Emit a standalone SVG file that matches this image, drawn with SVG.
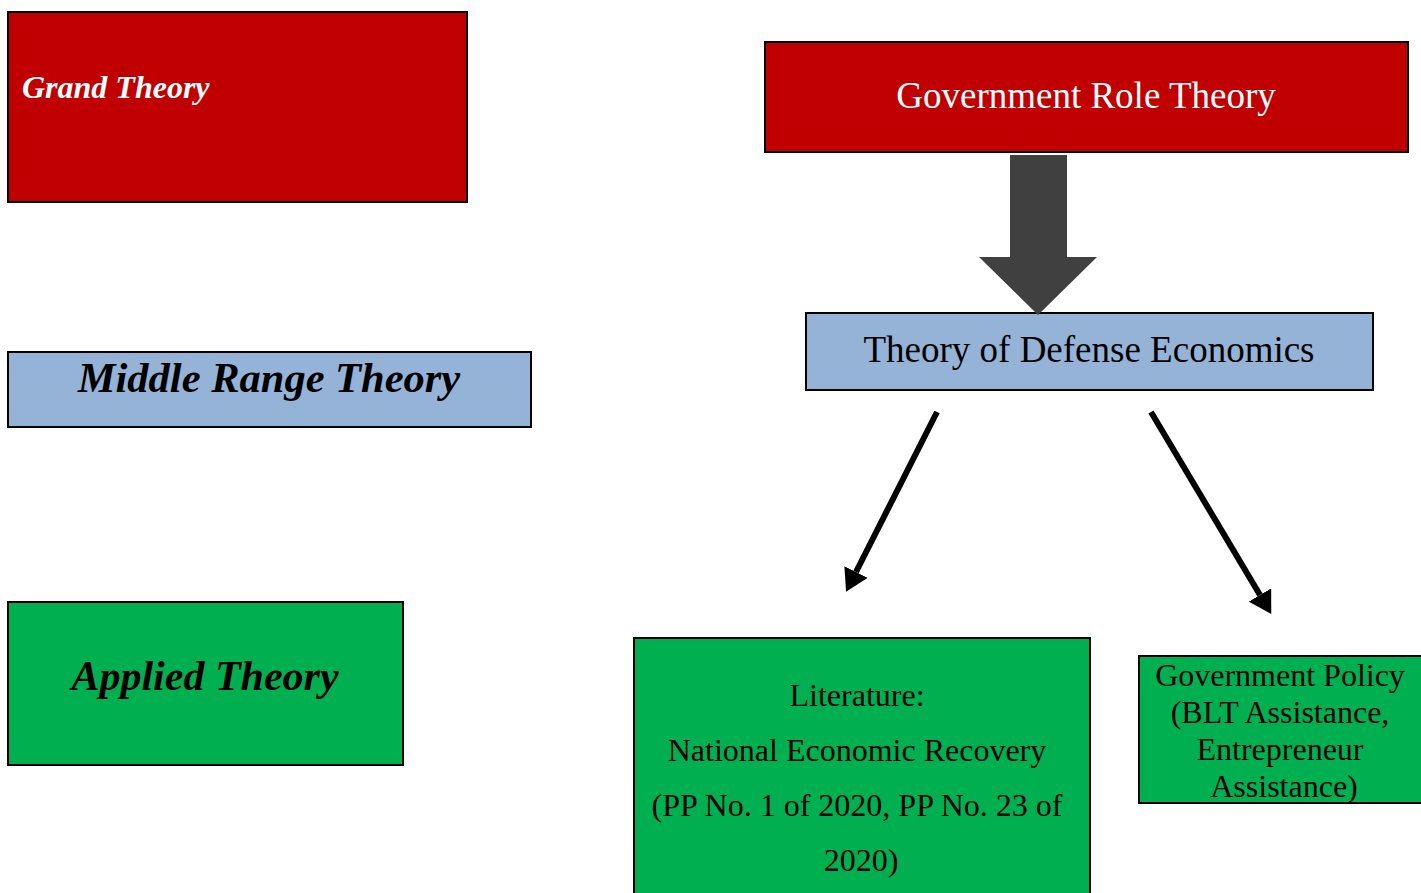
<svg xmlns="http://www.w3.org/2000/svg" width="1421" height="893" viewBox="0 0 1421 893">
<defs>
<style>
.box{stroke:#000;stroke-width:2}
.red{fill:#C00000}
.blue{fill:#95B3D7}
.green{fill:#00B050}
.t{font-family:"Liberation Serif","Times New Roman",serif}
.bi{font-weight:bold;font-style:italic}
.conn{stroke:#000;stroke-width:6;fill:none}
</style>
<marker id="ah" markerUnits="userSpaceOnUse" markerWidth="22" markerHeight="26" refX="0" refY="13" orient="auto" viewBox="0 0 22 26">
<path d="M0,0 L22,13 L0,26 Z" fill="#000"/>
</marker>
</defs>
<rect width="1421" height="893" fill="#fff"/>
<g id="grand-theory">
<rect class="box red" x="8" y="12" width="459" height="190"/>
<text class="t bi" x="22" y="98" font-size="32" fill="#fff">Grand Theory</text>
</g>
<g id="middle-range-theory">
<rect class="box blue" x="8" y="352" width="523" height="75"/>
<text class="t bi" x="269" y="392" font-size="42.5" fill="#000" text-anchor="middle">Middle Range Theory</text>
</g>
<g id="applied-theory">
<rect class="box green" x="8" y="602" width="395" height="163"/>
<text class="t bi" x="205" y="690" font-size="42" fill="#000" text-anchor="middle">Applied Theory</text>
</g>
<g id="government-role-theory">
<rect class="box red" x="765" y="42" width="643" height="110"/>
<text class="t" x="1086" y="108" font-size="37" fill="#fff" text-anchor="middle">Government Role Theory</text>
</g>
<g id="defense-economics">
<rect class="box blue" x="806" y="313" width="567" height="77"/>
<text class="t" x="1089" y="362" font-size="37" fill="#000" text-anchor="middle">Theory of Defense Economics</text>
</g>
<g id="literature">
<rect class="box green" x="634" y="638" width="456" height="270"/>
<text class="t" font-size="32" fill="#000" text-anchor="middle">
<tspan x="861" y="706">Literature:</tspan>
<tspan x="861" y="761">National Economic Recovery</tspan>
<tspan x="861" y="816">(PP No. 1 of 2020, PP No. 23 of</tspan>
<tspan x="861" y="871">2020)</tspan>
</text>
</g>
<g id="government-policy">
<rect class="box green" x="1139" y="656" width="284" height="147"/>
<text class="t" font-size="32" fill="#000" text-anchor="middle">
<tspan x="1284" y="686">Government Policy</tspan>
<tspan x="1284" y="723">(BLT Assistance,</tspan>
<tspan x="1284" y="760">Entrepreneur</tspan>
<tspan x="1284" y="797">Assistance)</tspan>
</text>
</g>
<g id="connectors">
<path d="M1010,155 L1067,155 L1067,257 L1097,257 L1038,315 L979,257 L1010,257 Z" fill="#404040"/>
<line class="conn" x1="937" y1="412" x2="856" y2="572" marker-end="url(#ah)"/>
<line class="conn" x1="1151" y1="412" x2="1260" y2="595" marker-end="url(#ah)"/>
</g>
</svg>
